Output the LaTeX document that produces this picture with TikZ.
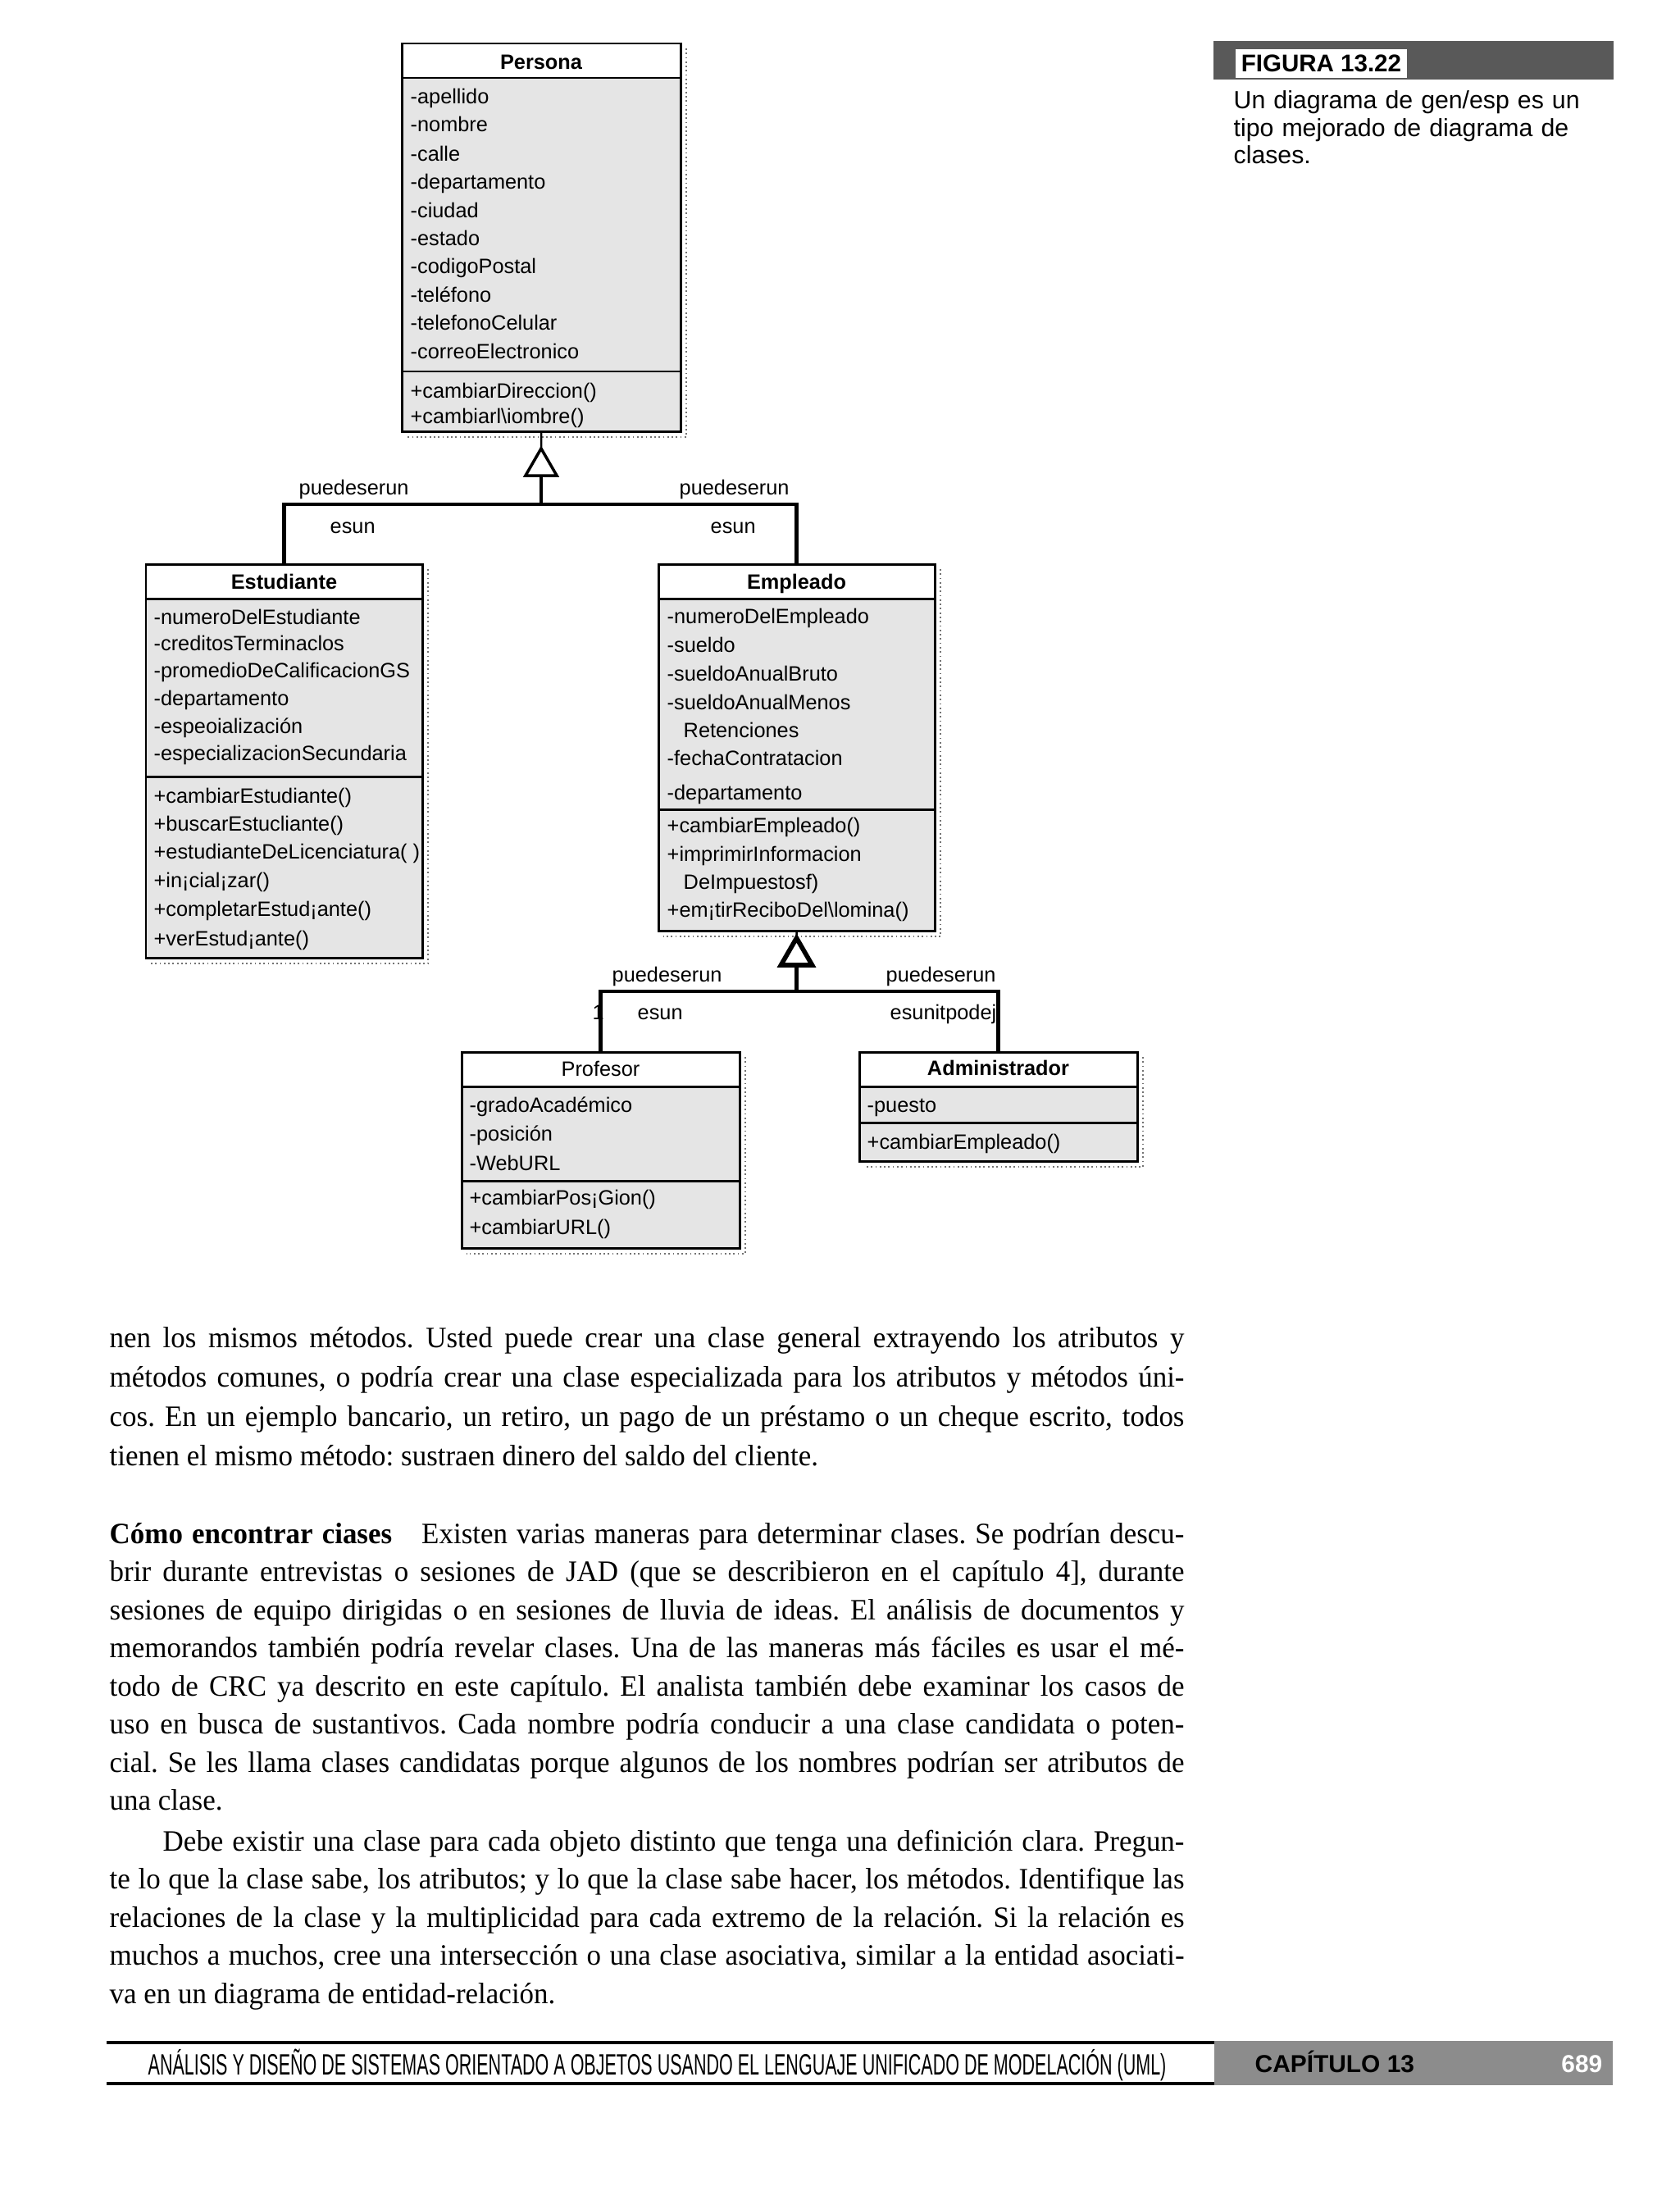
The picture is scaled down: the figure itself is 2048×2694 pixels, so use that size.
\documentclass[tikz,border=0pt]{standalone}
\usepackage{fontspec}
\setmainfont[FakeStretch=0.97]{Liberation Serif}
\setsansfont{Liberation Sans}
\newfontfamily\footerfont[FakeStretch=0.6]{Liberation Sans}
\usetikzlibrary{shapes.geometric}

\newcommand{\umlfont}{\sffamily\fontsize{7.2}{8.6}\selectfont}
\newcommand{\capfont}{\sffamily\fontsize{8.6}{9.4}\selectfont}
\newcommand{\bodyfont}{\rmfamily\frenchspacing\fontsize{10.25}{13.66}\selectfont}
\newcommand{\bodyfontb}{\rmfamily\frenchspacing\fontsize{10.25}{13.23}\selectfont}
\newcommand{\fullline}[1]{\makebox[\linewidth][s]{\spaceskip=0pt\xspaceskip=0pt #1}\\}

\tikzset{
  classbox/.style={draw, line width=0.85pt, inner sep=0pt, outer sep=0pt, anchor=north west},
  compfill/.style={fill=black!10},
  divider/.style={line width=0.85pt},
  boxshadow/.style={densely dotted, line width=0.5pt, black!55},
  classname/.style={anchor=base, inner sep=0pt, font=\umlfont\bfseries},
  classplain/.style={anchor=base, inner sep=0pt, font=\umlfont},
  member/.style={anchor=base west, inner sep=0pt, font=\umlfont},
  genlabel/.style={anchor=base west, inner sep=0pt, font=\umlfont},
  gentri/.style={draw, fill=white, regular polygon, regular polygon sides=3,
    minimum size=0.44cm, inner sep=0pt, outer sep=0pt, line width=1pt},
  genline/.style={line width=1.4pt},
  stemline/.style={line width=0.7pt},
  bodytext/.style={anchor=base west, inner sep=0pt, text width=13.1cm, align=justify},
}

\begin{document}
\begin{tikzpicture}[x=0.01cm, y=-0.01cm]
  \useasboundingbox (0,0) rectangle (2048,2694);
  \fill[white] (0,0) rectangle (2048,2694);

  % Persona
  \fill[compfill] (490,95) rectangle (830,526);
  \node[classbox, minimum width=3.40cm, minimum height=4.73cm] (persona) at (490,53) {};
  \draw[divider] (490,95) -- (830,95);
  \draw[divider] (490,453) -- (830,453);
  \node[classname] (persona-name) at (660,85) {Persona};
  \foreach \y/\txt [count=\i] in {127/-apellido, 161/-nombre, 196/-calle, 230/-departamento,
      265/-ciudad, 299/-estado, 333/-codigoPostal, 368/-teléfono, 402/-telefonoCelular,
      437/-correoElectronico}
    \node[member] (persona-a\i) at (500,\y) {\txt};
  \foreach \y/\txt [count=\i] in {485/+cambiarDireccion(), 516/+cambiarl\textbackslash iombre()}
    \node[member] (persona-m\i) at (500,\y) {\txt};

  % Estudiante
  \fill[compfill] (178,730) rectangle (515,1168);
  \node[classbox, minimum width=3.37cm, minimum height=4.80cm] (estudiante) at (178,688) {};
  \draw[divider] (178,730) -- (515,730);
  \draw[divider] (178,947) -- (515,947);
  \node[classname] (estudiante-name) at (346.5,718) {Estudiante};
  \foreach \y/\txt [count=\i] in {761/-numeroDelEstudiante, 793/-creditosTerminaclos,
      826/-promedioDeCalificacionGS, 860/-departamento, 894/-espeoialización,
      927/-especializacionSecundaria}
    \node[member] (estudiante-a\i) at (187,\y) {\txt};
  \foreach \y/\txt [count=\i] in {979/+cambiarEstudiante(), 1013/+buscarEstucliante(),
      1047/+estudianteDeLicenciatura( ), 1082/+in¡cial¡zar(), 1117/+completarEstud¡ante(),
      1153/+verEstud¡ante()}
    \node[member] (estudiante-m\i) at (187,\y) {\txt};

  % Empleado
  \fill[compfill] (803,730) rectangle (1140,1135);
  \node[classbox, minimum width=3.37cm, minimum height=4.47cm] (empleado) at (803,688) {};
  \draw[divider] (803,730) -- (1140,730);
  \draw[divider] (803,987) -- (1140,987);
  \node[classname] (empleado-name) at (971.5,718) {Empleado};
  \foreach \y/\txt [count=\i] in {760/-numeroDelEmpleado, 795/-sueldo, 830/-sueldoAnualBruto,
      865/-sueldoAnualMenos, 899/\hspace*{0.2cm}Retenciones, 933/-fechaContratacion,
      975/-departamento}
    \node[member] (empleado-a\i) at (813,\y) {\txt};
  \foreach \y/\txt [count=\i] in {1015/+cambiarEmpleado(), 1050/+imprimirInformacion,
      1084/\hspace*{0.2cm}DeImpuestosf), 1118/+em¡tirReciboDel\textbackslash lomina()}
    \node[member] (empleado-m\i) at (813,\y) {\txt};

  % Profesor
  \fill[compfill] (563,1325) rectangle (902,1522);
  \node[classbox, minimum width=3.39cm, minimum height=2.39cm] (profesor) at (563,1283) {};
  \draw[divider] (563,1325) -- (902,1325);
  \draw[divider] (563,1440) -- (902,1440);
  \node[classplain] (profesor-name) at (732.5,1312) {Profesor};
  \foreach \y/\txt [count=\i] in {1356/-gradoAcadémico, 1391/-posición, 1427/-WebURL}
    \node[member] (profesor-a\i) at (572,\y) {\txt};
  \foreach \y/\txt [count=\i] in {1469/+cambiarPos¡Gion(), 1505/+cambiarURL()}
    \node[member] (profesor-m\i) at (572,\y) {\txt};

  % Administrador
  \fill[compfill] (1048,1325) rectangle (1387,1416);
  \node[classbox, minimum width=3.39cm, minimum height=1.33cm] (administrador) at (1048,1283) {};
  \draw[divider] (1048,1325) -- (1387,1325);
  \draw[divider] (1048,1369) -- (1387,1369);
  \node[classname] (administrador-name) at (1217.5,1311) {Administrador};
  \node[member] (administrador-a1) at (1057,1356) {-puesto};
  \node[member] (administrador-m1) at (1057,1401) {+cambiarEmpleado()};

  % dotted shadows
  \foreach \b in {persona,estudiante,empleado,profesor,administrador}
    \draw[boxshadow] ([shift={(7,6)}]\b.north east) |- ([shift={(6,7)}]\b.south west);

  % Persona generalization
  \node[gentri] (tri1) at (660,569) {};
  \coordinate (bar1) at (660,615);
  \draw[stemline] (persona.south) -- (tri1.corner 1);
  \draw[genline] (tri1.south) -- (bar1);
  \draw[genline] (estudiante.north) -- (estudiante.north |- bar1)
    -- (empleado.north |- bar1) -- (empleado.north);
  \node[genlabel] (lbl-pl1) at (364,603) {puedeserun};
  \node[genlabel] (lbl-pr1) at (828,603) {puedeserun};
  \node[genlabel] (lbl-el1) at (402,650) {esun};
  \node[genlabel] (lbl-er1) at (866,650) {esun};

  % Empleado generalization
  \node[gentri, line width=1.6pt] (tri2) at (971.5,1166) {};
  \coordinate (bar2) at (971.5,1209);
  \draw[stemline] (empleado.south) -- (tri2.corner 1);
  \draw[genline] (tri2.south) -- (bar2);
  \draw[genline] (profesor.north) -- (profesor.north |- bar2)
    -- (administrador.north |- bar2) -- (administrador.north);
  \node[genlabel] (lbl-pl2) at (746,1197) {puedeserun};
  \node[genlabel] (lbl-pr2) at (1080,1197) {puedeserun};
  \node[genlabel] (lbl-one) at (722,1243) {1};
  \node[genlabel] (lbl-el2) at (777,1243) {esun};
  \node[genlabel] (lbl-er2) at (1085,1243) {esunitpodej};

  % caption
  \fill[black!65] (1480,50) rectangle (1968,97);
  \node[anchor=base west, fill=white, inner sep=2pt, font=\sffamily\bfseries\fontsize{8.4}{10}\selectfont]
    (fig-tag) at (1506,88) {FIGURA 13.22};
  \node[anchor=base west, inner sep=0pt, text width=4.6cm, align=left, font=\capfont]
    (fig-caption) at (1504,133) {Un diagrama de gen/esp es un\\ tipo mejorado de diagrama de\\ clases.};

  % body text
  \node[bodytext, font=\bodyfont] (par1) at (133,1643) {%
    \fullline{nen los mismos métodos. Usted puede crear una clase general extrayendo los atributos y}
    \fullline{métodos comunes, o podría crear una clase especializada para los atributos y métodos úni-}
    \fullline{cos. En un ejemplo bancario, un retiro, un pago de un préstamo o un cheque escrito, todos}
    tienen el mismo método: sustraen dinero del saldo del cliente.};
  \node[bodytext, font=\bodyfontb] (par2) at (133,1882) {%
    \fullline{\textbf{Cómo encontrar ciases}\quad Existen varias maneras para determinar clases. Se podrían descu-}
    \fullline{brir durante entrevistas o sesiones de JAD (que se describieron en el capítulo 4], durante}
    \fullline{sesiones de equipo dirigidas o en sesiones de lluvia de ideas. El análisis de documentos y}
    \fullline{memorandos también podría revelar clases. Una de las maneras más fáciles es usar el mé-}
    \fullline{todo de CRC ya descrito en este capítulo. El analista también debe examinar los casos de}
    \fullline{uso en busca de sustantivos. Cada nombre podría conducir a una clase candidata o poten-}
    \fullline{cial. Se les llama clases candidatas porque algunos de los nombres podrían ser atributos de}
    una clase.};
  \node[bodytext, font=\bodyfontb] (par3) at (133,2257) {%
    \fullline{\hspace*{0.65cm}Debe existir una clase para cada objeto distinto que tenga una definición clara. Pregun-}
    \fullline{te lo que la clase sabe, los atributos; y lo que la clase sabe hacer, los métodos. Identifique las}
    \fullline{relaciones de la clase y la multiplicidad para cada extremo de la relación. Si la relación es}
    \fullline{muchos a muchos, cree una intersección o una clase asociativa, similar a la entidad asociati-}
    va en un diagrama de entidad-relación.};

  % footer
  \draw[line width=0.9pt] (130,2491) -- (1481,2491);
  \draw[line width=0.9pt] (130,2541) -- (1481,2541);
  \fill[black!45] (1481,2489) rectangle (1967,2543);
  \node[anchor=base west, inner sep=0pt, font=\footerfont\fontsize{10.2}{12}\selectfont]
    (foot-title) at (180,2530) {ANÁLISIS Y DISEÑO DE SISTEMAS ORIENTADO A OBJETOS USANDO EL LENGUAJE UNIFICADO DE MODELACIÓN (UML)};
  \node[anchor=base west, inner sep=0pt, font=\sffamily\bfseries\fontsize{8.5}{10}\selectfont]
    (foot-chapter) at (1530,2527) {CAPÍTULO 13};
  \node[anchor=base east, inner sep=0pt, text=white, font=\sffamily\bfseries\fontsize{8.5}{10}\selectfont]
    (foot-page) at (1955,2527) {689};
\end{tikzpicture}
\end{document}
